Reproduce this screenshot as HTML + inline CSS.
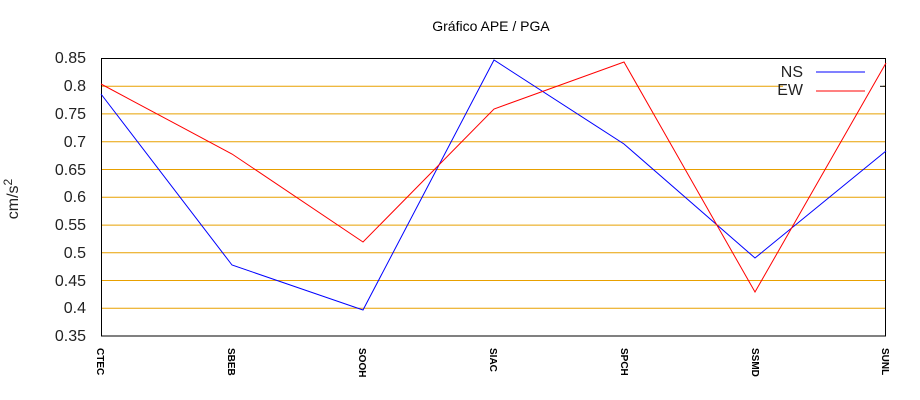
<!DOCTYPE html>
<html><head><style>body{margin:0;background:#fff}svg{display:block}</style></head><body>
<svg width="920" height="400" xmlns="http://www.w3.org/2000/svg" font-family="Liberation Sans, DejaVu Sans, sans-serif">
<text x="491" y="31" font-size="14" text-anchor="middle">Gráfico  APE / PGA</text>
<g stroke="#e8a000" stroke-width="1">
<line x1="101" x2="886" y1="86.3" y2="86.3"/>
<line x1="101" x2="886" y1="113.9" y2="113.9"/>
<line x1="101" x2="886" y1="141.7" y2="141.7"/>
<line x1="101" x2="886" y1="169.5" y2="169.5"/>
<line x1="101" x2="886" y1="197.3" y2="197.3"/>
<line x1="101" x2="886" y1="225.1" y2="225.1"/>
<line x1="101" x2="886" y1="252.7" y2="252.7"/>
<line x1="101" x2="886" y1="280.5" y2="280.5"/>
<line x1="101" x2="886" y1="308.3" y2="308.3"/>
</g>
<rect x="783" y="62" width="100" height="34" fill="#fff"/>
<g stroke="#000"><line x1="880" x2="886" y1="86.3" y2="86.3"/></g>
<rect x="101.5" y="58.5" width="784" height="277.5" fill="none" stroke="#000"/>
<g font-size="16" fill="#222" text-anchor="end">
<text x="86" y="63">0.85</text><text x="86" y="91">0.8</text><text x="86" y="119">0.75</text>
<text x="86" y="147">0.7</text><text x="86" y="175">0.65</text><text x="86" y="202">0.6</text>
<text x="86" y="230">0.55</text><text x="86" y="258">0.5</text><text x="86" y="286">0.45</text>
<text x="86" y="313">0.4</text><text x="86" y="341">0.35</text>
</g>
<text transform="translate(18,199) rotate(-90)" font-size="16" text-anchor="middle" fill="#222">cm/s<tspan dy="-6" font-size="12">2</tspan></text>
<g font-size="10" font-weight="bold" text-anchor="start">
<text transform="translate(97,348) rotate(90)">CTEC</text>
<text transform="translate(228,348) rotate(90)">SBEB</text>
<text transform="translate(359,348) rotate(90)">SOOH</text>
<text transform="translate(490,348) rotate(90)">SIAC</text>
<text transform="translate(621,348) rotate(90)">SPCH</text>
<text transform="translate(752,348) rotate(90)">SSMD</text>
<text transform="translate(882,348) rotate(90)">SUNL</text>
</g>
<polyline fill="none" stroke="#00f" stroke-width="1" points="101,94 232,265 363,310 494,60 624,144 755,258 886,151"/>
<polyline fill="none" stroke="#f00" stroke-width="1" points="101,84 232,154 363,242 494,109 624,62 755,292 886,63"/>
<g font-size="16" fill="#222" text-anchor="end">
<text x="803" y="77">NS</text><text x="803" y="95">EW</text>
</g>
<line x1="816" x2="865" y1="72" y2="72" stroke="#00f"/>
<line x1="816" x2="865" y1="91" y2="91" stroke="#f00"/>
</svg>
</body></html>
